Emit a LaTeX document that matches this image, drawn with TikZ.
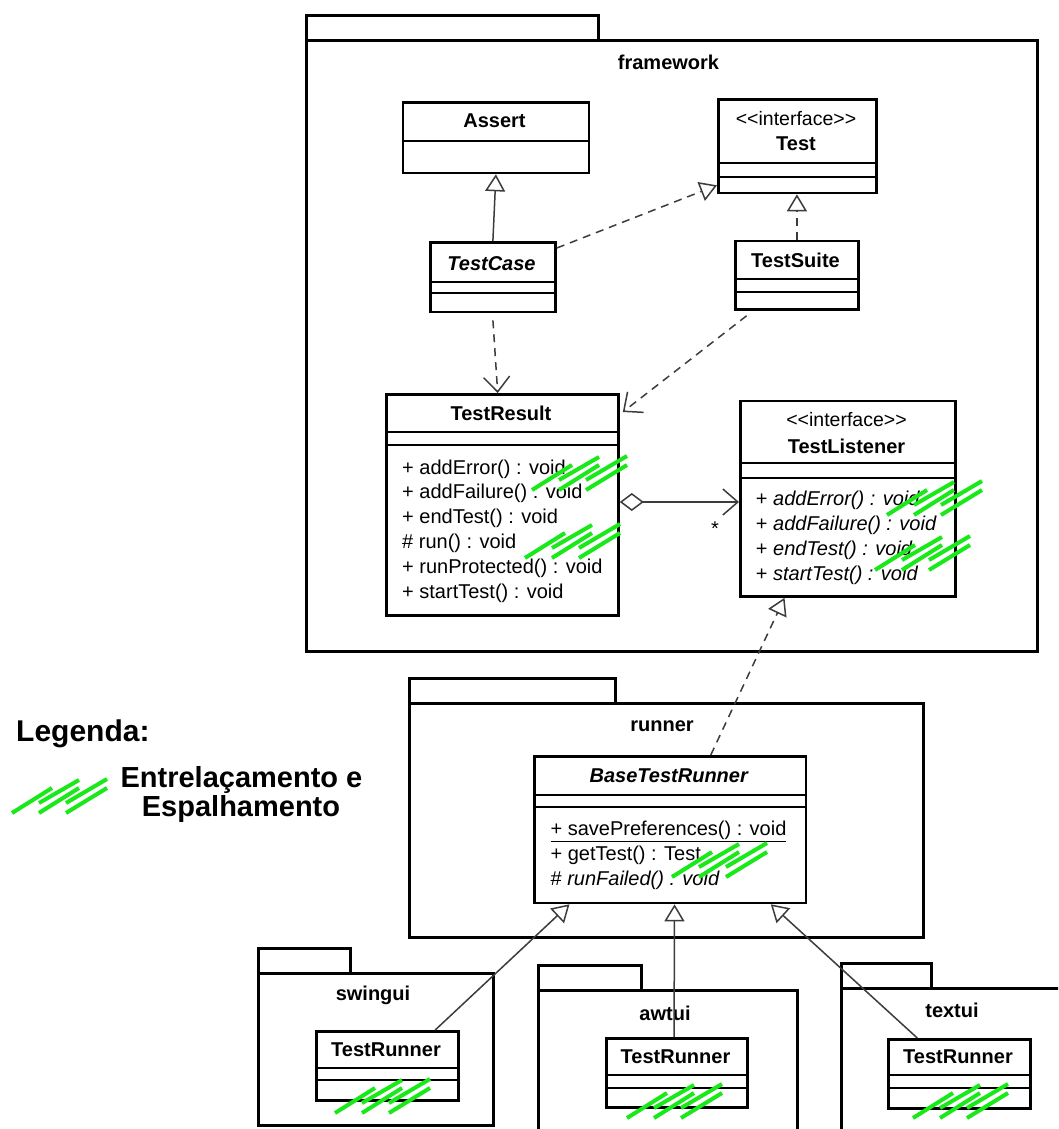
\documentclass[tikz,border=0pt]{standalone}
\usepackage{fontspec}
\setmainfont{Liberation Sans}
\usetikzlibrary{arrows.meta,calc}

\definecolor{mixgreen}{RGB}{25,232,25}
\definecolor{wire}{RGB}{60,60,60}

\tikzset{
  pkgframe/.style={draw=black, line width=3pt, inner sep=0pt, anchor=north west},
  classbox/.style={draw=black, line width=2.8pt, fill=white, inner sep=0pt, anchor=north west},
  pkgname/.style={font=\fontsize{20}{24}\selectfont\bfseries, inner sep=0pt},
  clsname/.style={font=\fontsize{20}{24}\selectfont\bfseries, inner sep=0pt},
  stereo/.style={font=\fontsize{19.5}{23}\selectfont, inner sep=0pt},
  member/.style={font=\fontsize{20}{24}\selectfont, anchor=base west, inner sep=0pt},
  divider/.style={line width=1.8pt},
  conn/.style={draw=wire, line width=1.5pt},
  dashconn/.style={conn, dash pattern=on 8pt off 6pt},
  realize/.style={-{Triangle[open,length=17pt,width=20pt,line width=1.5pt]}},
  depend/.style={-{Straight Barb[length=15pt,width=26pt,line width=1.5pt]}},
  aggr/.style={{Diamond[open,length=24pt,width=18pt,line width=1.5pt]}-{Straight Barb[length=15pt,width=26pt,line width=1.5pt]}},
  scatmark/.pic={
    \draw[mixgreen, line width=4pt]
      (0,0) -- (40,-25)
      (27,0) -- (67,-25)
      (54,0) -- (95,-25)
      (27,-10) -- (67,-33)
      (54,-10) -- (95,-34);
  }
}

% package frame / class box by its corners
\newcommand\pkgrect[5]{\node[pkgframe, minimum width={#4-#2}, minimum height={#5-#3}] (#1) at (#2,#3) {};}
\newcommand\umlbox[5]{\node[classbox, minimum width={#4-#2}, minimum height={#5-#3}] (#1) at (#2,#3) {};}
\newcommand\umlsep[2]{\draw[divider] (#1.west |- 0,#2) -- (#1.east |- 0,#2);}

\begin{document}
\begin{tikzpicture}[x=1pt,y=-1pt]
\clip (0,0) rectangle (1058,1129);
\fill[white] (0,0) rectangle (1058,1129);

% ---------- packages ----------
\pkgrect{fwtab}{304.5}{14.5}{597}{39}
\pkgrect{fw}{304.5}{39}{1036}{649.5}
\node[pkgname] (fwname) at (668.5,62) {framework};

\pkgrect{rntab}{408}{677}{614}{702}
\pkgrect{rn}{408}{702}{922}{935.5}
\node[pkgname] (rnname) at (662,726) {runner};

\pkgrect{swtab}{257}{947}{349}{972}
\pkgrect{sw}{257}{972}{492}{1124}
\node[pkgname] (swname) at (373,995) {swingui};

\pkgrect{awtab}{537}{963.5}{640}{988.5}
\pkgrect{aw}{537}{988.5}{796}{1150}
\node[pkgname] (awname) at (665,1013) {awtui};

\pkgrect{txtab}{840}{962}{930}{987}
\pkgrect{tx}{840}{987}{1080}{1150}
\node[pkgname] (txname) at (952,1010) {textui};

% ---------- classes ----------
\umlbox{assert}{401.5}{101}{587.5}{171.5}
\umlsep{assert}{140.7}
\node[clsname] (assertname) at (494.5,121) {Assert};

\umlbox{test}{717}{98.5}{875}{191.5}
\umlsep{test}{163.3}
\umlsep{test}{177.3}
\node[stereo] (teststereo) at (796,118.3) {<\kern0pt<interface>\kern0pt>};
\node[clsname] (testname) at (796,144) {Test};

\umlbox{tc}{429}{241}{554}{310.5}
\umlsep{tc}{281.7}
\umlsep{tc}{293.3}
\node[clsname, font=\fontsize{20}{24}\selectfont\bfseries\itshape] (tcname) at (491.5,263.3) {TestCase};

\umlbox{ts}{734}{239.5}{857}{308}
\umlsep{ts}{279.3}
\umlsep{ts}{291.7}
\node[clsname] (tsname) at (795.5,260.7) {TestSuite};

\umlbox{tr}{385}{393}{617}{614}
\umlsep{tr}{431.7}
\umlsep{tr}{445}
\node[clsname] (trname) at (501,413.3) {TestResult};
\node[member] (trm1) at (402,474) {+ addError() : void};
\node[member] (trm2) at (402,498.8) {+ addFailure() : void};
\node[member] (trm3) at (402,523.6) {+ endTest() : void};
\node[member] (trm4) at (402,548.4) {\# run() : void};
\node[member] (trm5) at (402,573.2) {+ runProtected() : void};
\node[member] (trm6) at (402,598) {+ startTest() : void};

\umlbox{tl}{739}{399.5}{954}{595}
\umlsep{tl}{463.3}
\umlsep{tl}{477.7}
\node[stereo] (tlstereo) at (846.5,420) {<\kern0pt<interface>\kern0pt>};
\node[clsname] (tlname) at (846.5,446) {TestListener};
\node[member] (tlm1) at (755.7,505.5) {+ \textit{addError() : void}};
\node[member] (tlm2) at (755.7,530.3) {+ \textit{addFailure() : void}};
\node[member] (tlm3) at (755.7,555.3) {+ \textit{endTest() : void}};
\node[member] (tlm4) at (755.7,580.3) {+ \textit{startTest() : void}};

\umlbox{btr}{533}{755}{804.5}{901.5}
\umlsep{btr}{795}
\umlsep{btr}{806.7}
\node[clsname, font=\fontsize{20}{24}\selectfont\bfseries\itshape] (btrname) at (668.75,776) {BaseTestRunner};
\node[member] (btrm1) at (550.4,835.3) {\underline{+ savePreferences() : void}};
\node[member] (btrm2) at (550.4,860.3) {+ getTest() : Test};
\node[member] (btrm3) at (550.4,885.3) {\# \textit{runFailed() : void}};

\umlbox{trone}{315}{1030}{457}{1099}
\umlsep{trone}{1067.7}
\umlsep{trone}{1080}
\node[clsname] (tronename) at (386,1050) {TestRunner};

\umlbox{trtwo}{605}{1037}{746}{1106}
\umlsep{trtwo}{1075}
\umlsep{trtwo}{1088}
\node[clsname] (trtwoname) at (675.5,1056.7) {TestRunner};

\umlbox{trthree}{887}{1038}{1029}{1107}
\umlsep{trthree}{1075}
\umlsep{trthree}{1088}
\node[clsname] (trthreename) at (958,1056.7) {TestRunner};

% ---------- relations ----------
\draw[conn, realize] (tc.north) -- (assert.south);
\draw[dashconn, realize] ([yshift=-7pt]tc.north east) -- ([yshift=9pt]test.south west);
\draw[dashconn, realize] (ts.north) -- (ts.north |- test.south);
\draw[dashconn, depend] ([yshift=-7pt]tc.south) -- ($(tr.north west)!0.48!(tr.north east)$);
\draw[dashconn, depend] ([yshift=-5pt]$(ts.south west)!0.1!(ts.south east)$) -- ([xshift=3pt,yshift=-19pt]tr.north east);
\draw[conn, aggr] (tr.east |- 0,502) -- (tl.west |- 0,502);
\node[font=\fontsize{20}{24}\selectfont, inner sep=0pt] (mult) at (715,529) {*};
\draw[dashconn, realize] ($(btr.north west)!0.648!(btr.north east)$) -- ($(tl.south west)!0.209!(tl.south east)$);
\draw[conn, realize] ($(trone.north west)!0.83!(trone.north east)$) -- ($(btr.south west)!0.133!(btr.south east)$);
\draw[conn, realize] ($(trtwo.north west)!0.48!(trtwo.north east)$) -- ($(btr.south west)!0.516!(btr.south east)$);
\draw[conn, realize] ($(trthree.north west)!0.209!(trthree.north east)$) -- ($(btr.south west)!0.867!(btr.south east)$);

% ---------- crosscutting marks ----------
\pic at (532,490) {scatmark};
\pic at (525,558) {scatmark};
\pic at (887,515) {scatmark};
\pic at (875,570) {scatmark};
\pic at (672,877) {scatmark};
\pic at (335,1113) {scatmark};
\pic at (627,1118) {scatmark};
\pic at (913,1118) {scatmark};

% ---------- legend ----------
\node[anchor=base west, font=\fontsize{30}{36}\selectfont\bfseries, inner sep=0pt] (legtitle) at (16,741.7) {Legenda:};
\pic at (12,813) {scatmark};
\node[anchor=base, font=\fontsize{29}{34}\selectfont\bfseries, inner sep=0pt] (legline1) at (241.5,787.3) {Entrelaçamento e};
\node[anchor=base, font=\fontsize{29}{34}\selectfont\bfseries, inner sep=0pt] (legline2) at (241,816.7) {Espalhamento};
\end{tikzpicture}
\end{document}
